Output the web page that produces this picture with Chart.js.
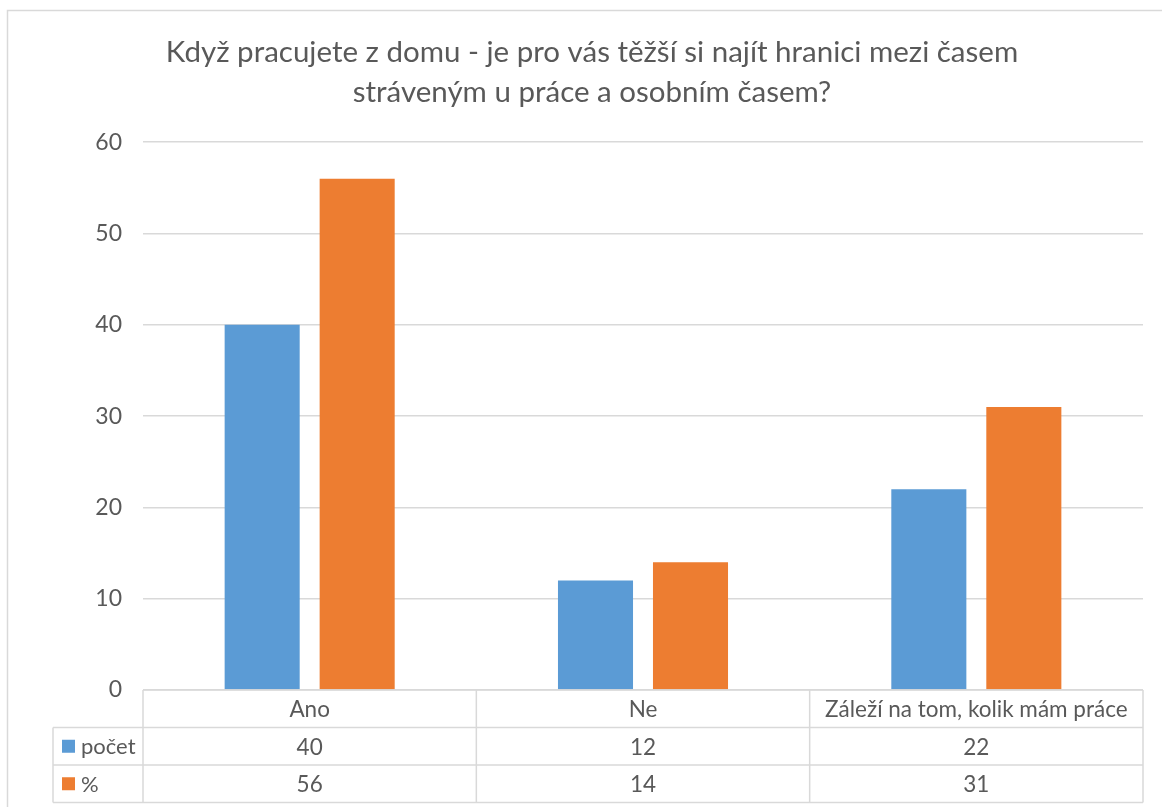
<!DOCTYPE html>
<html>
<head>
<meta charset="utf-8">
<script src="https://cdn.jsdelivr.net/npm/chart.js@4.4.1/dist/chart.umd.min.js"></script>
<style>
  html, body { margin: 0; padding: 0; background: #fff; overflow: hidden; }
</style>
</head>
<body>
<canvas id="chart" width="1162" height="807"></canvas>
<script>
// Chart data
const categories = ['Ano', 'Ne', 'Záleží na tom, kolik mám práce'];
const pocetValues = [40, 12, 22];
const percentValues = [56, 14, 31];
const seriesNames = ['počet', '%'];
const titleLines = ['Když pracujete z domu - je pro vás těžší si najít hranici mezi časem', 'stráveným u práce a osobním časem?'];

const textColor = '#595959';
const lineColor = '#d9d9d9';
const fontFamily = 'Lato, "Open Sans", sans-serif';
const seriesColors = ['#5b9bd5', '#ed7d31'];

// Draws the outer frame of the chart
const framePlugin = {
    id: 'frame',
    beforeDraw(chart) {
        const ctx = chart.ctx;
        ctx.save();
        ctx.fillStyle = '#fff';
        ctx.fillRect(0, 0, chart.width, chart.height);
        ctx.strokeStyle = lineColor;
        ctx.lineWidth = 1.5;
        ctx.strokeRect(7.5, 10.5, chart.width + 20, chart.height + 20);
        ctx.restore();
    }
};

// Draws the data table under the x axis
const dataTablePlugin = {
    id: 'dataTable',
    afterDraw(chart) {
        const ctx = chart.ctx;
        const x = chart.scales.x;
        const area = chart.chartArea;
        const rowH = 37.5;
        const top = area.bottom;
        const bottom = top + rowH * 3;
        const legendLeft = 53;
        const colW = (x.right - x.left) / categories.length;

        ctx.save();
        ctx.strokeStyle = lineColor;
        ctx.lineWidth = 1.5;
        ctx.beginPath();
        // horizontal lines
        ctx.moveTo(x.left, top); ctx.lineTo(x.right, top);
        for (let r = 1; r <= 3; r++) {
            ctx.moveTo(legendLeft, top + rowH * r);
            ctx.lineTo(x.right, top + rowH * r);
        }
        // vertical lines
        ctx.moveTo(legendLeft, top + rowH); ctx.lineTo(legendLeft, bottom);
        for (let i = 0; i <= categories.length; i++) {
            const px = x.left + colW * i;
            ctx.moveTo(px, top); ctx.lineTo(px, bottom);
        }
        ctx.stroke();

        ctx.fillStyle = textColor;
        ctx.font = '22.5px ' + fontFamily;
        ctx.textAlign = 'center';
        ctx.textBaseline = 'middle';
        categories.forEach((cat, i) => {
            const cx = x.getPixelForValue(i);
            ctx.fillText(cat, cx, top + rowH / 2 + 1);
            ctx.fillText(String(pocetValues[i]), cx, top + rowH * 1.5 + 1);
            ctx.fillText(String(percentValues[i]), cx, top + rowH * 2.5 + 1);
        });

        // legend keys
        ctx.textAlign = 'left';
        ctx.font = '22px ' + fontFamily;
        seriesNames.forEach((name, r) => {
            const cy = top + rowH * (r + 1.5);
            ctx.fillStyle = seriesColors[r];
            ctx.fillRect(62, cy - 6.5, 13, 13);
            ctx.fillStyle = textColor;
            ctx.fillText(name, 81, cy + 1);
        });
        ctx.restore();
    }
};

new Chart(document.getElementById('chart'), {
    type: 'bar',
    data: {
        labels: categories,
        datasets: [
            {
                label: seriesNames[0],
                data: pocetValues,
                backgroundColor: seriesColors[0]
            },
            {
                label: seriesNames[1],
                data: percentValues,
                backgroundColor: seriesColors[1]
            }
        ]
    },
    options: {
        responsive: false,
        animation: false,
        devicePixelRatio: 1,
        layout: {
            padding: { left: 41, right: 19, top: 0, bottom: 0 }
        },
        datasets: {
            bar: {
                categoryPercentage: 0.57,
                barPercentage: 0.79
            }
        },
        scales: {
            x: {
                grid: { display: false },
                border: { display: false },
                ticks: { display: false },
                afterFit: function(scale) {
                    scale.height = 117;
                }
            },
            y: {
                min: 0,
                max: 60,
                ticks: {
                    stepSize: 10,
                    color: textColor,
                    padding: 21,
                    font: { family: fontFamily, size: 23 }
                },
                grid: {
                    color: lineColor,
                    lineWidth: 1.5,
                    drawTicks: false
                },
                border: { display: false },
                afterFit: function(scale) {
                    scale.width = 102;
                }
            }
        },
        plugins: {
            legend: { display: false },
            tooltip: { enabled: false },
            title: {
                display: true,
                text: titleLines,
                color: textColor,
                font: { family: fontFamily, size: 29.5, weight: 'normal', lineHeight: 1.36 },
                padding: { top: 32, bottom: 30 }
            }
        }
    },
    plugins: [framePlugin, dataTablePlugin]
});
</script>
</body>
</html>
